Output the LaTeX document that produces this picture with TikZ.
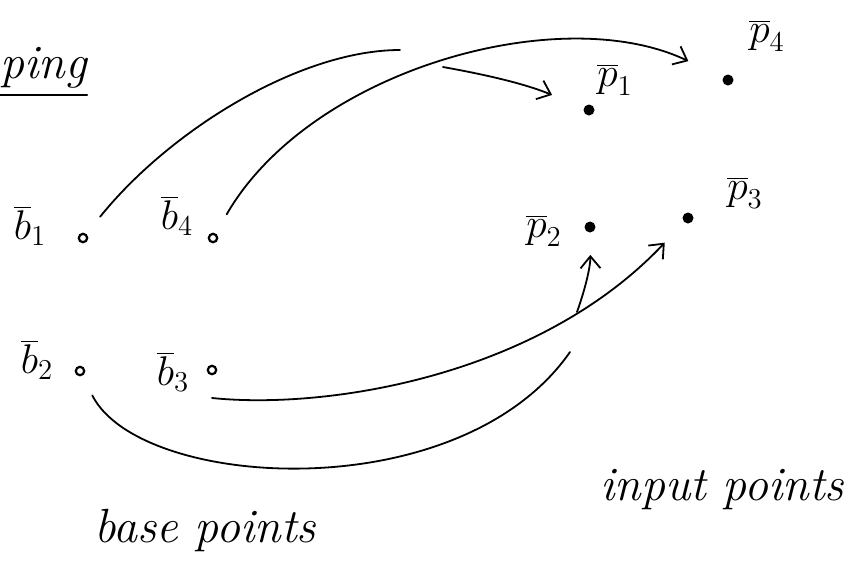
\documentclass[tikz,border=0pt]{standalone}
\usepackage{fontspec}
\usepackage{tikz}
\usetikzlibrary{arrows.meta}

\begin{document}
\begin{tikzpicture}[
  x=0.5pt, y=-0.5pt,
  >={Straight Barb[length=6pt,width=10pt]},
  bdot/.style={circle, draw, line width=1.1pt, inner sep=0pt, minimum size=4.2pt},
  pdot/.style={circle, fill, inner sep=0pt, minimum size=5.5pt},
  pname/.style={font=\fontsize{22}{26}\selectfont},
  hand/.style={font=\fontsize{24}{28}\selectfont\itshape},
  link/.style={line width=0.9pt, line cap=round}
]
\useasboundingbox (0,0) rectangle (858,575);

\node[bdot] (b1) at (83,238) {};
\node[bdot] (b4) at (213,238) {};
\node[bdot] (b2) at (80,371) {};
\node[bdot] (b3) at (212,370) {};
\node[pdot] (p1) at (589,110) {};
\node[pdot] (p4) at (728,80) {};
\node[pdot] (p2) at (590,227) {};
\node[pdot] (p3) at (688,218) {};

\node[pname] (lb1) at (30,226) {$\overline{b}_1$};
\node[pname] (lb4) at (177,216) {$\overline{b}_4$};
\node[pname] (lb2) at (37,360) {$\overline{b}_2$};
\node[pname] (lb3) at (173,372) {$\overline{b}_3$};
\node[pname] (lp1) at (615,80) {$\overline{p}_1$};
\node[pname] (lp4) at (767,36) {$\overline{p}_4$};
\node[pname] (lp2) at (544,231) {$\overline{p}_2$};
\node[pname] (lp3) at (745,193) {$\overline{p}_3$};

\node[hand, anchor=west, inner sep=0pt] (ping) at (0,68) {ping};
\draw[link] ([yshift=-3pt]ping.south west) -- ([yshift=-3pt]ping.south east);
\node[hand] (input) at (722,490) {input points};
\node[hand] (bpts) at (205,530) {base points};

\coordinate (b1end) at (400,50);
\coordinate (p1start) at (443,67);
\coordinate (b2end) at (570,352);
\coordinate (p2start) at (577,312);

\draw[link, shorten <=11pt] (b1) .. controls (170,130) and (300,50) .. (b1end);
\draw[link, ->, shorten >=17pt] (p1start) to[bend left=6] (p1);
\draw[link, ->, shorten <=11pt, shorten >=19pt] (b4) .. controls (310,70) and (560,0) .. (p4);
\draw[link, shorten <=11pt] (b2) .. controls (140,490) and (460,510) .. (b2end);
\draw[link, ->, shorten >=11pt] (p2start) to[bend right=10] (p2);
\draw[link, ->, shorten >=14pt] ([yshift=-14pt]b3.center) .. controls (330,410) and (540,375) .. (p3);
\end{tikzpicture}
\end{document}
